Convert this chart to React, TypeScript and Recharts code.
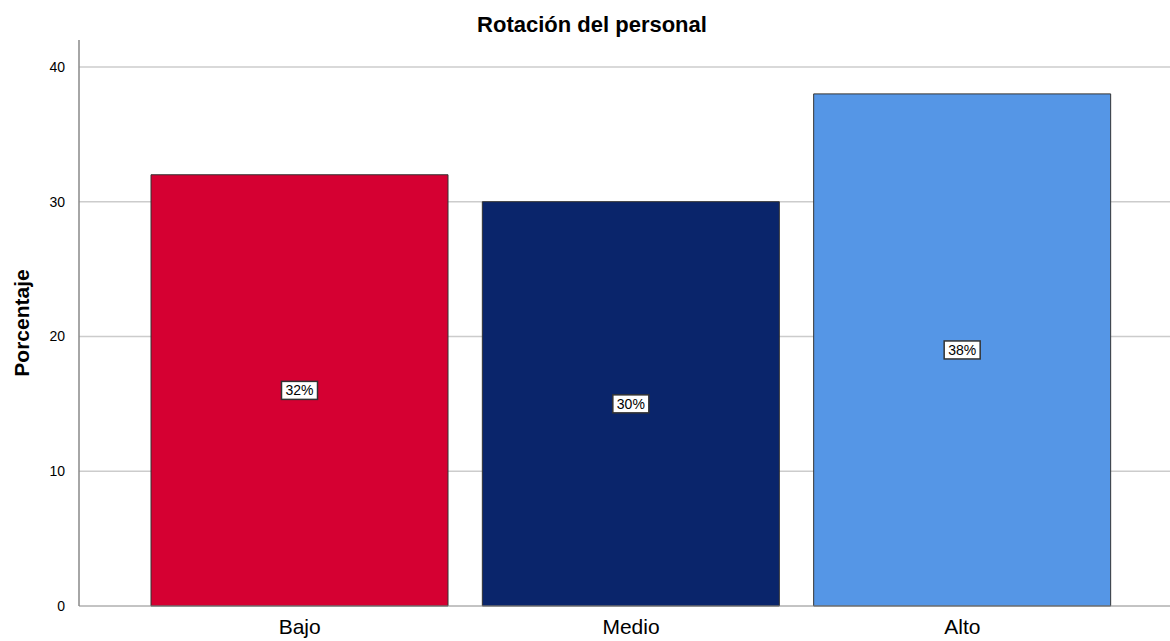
import React from 'react';
import {
  BarChart,
  Bar,
  XAxis,
  YAxis,
  CartesianGrid,
  Cell,
  LabelList,
} from 'recharts';

const categories = ['Bajo', 'Medio', 'Alto'];
const percentages = [32, 30, 38];
const barColors = ['#D50032', '#0A256B', '#5596E6'];
const yTicks = [0, 10, 20, 30, 40];

const data = categories.map((name, i) => ({ name, value: percentages[i] }));

const font = '"Liberation Sans", Arial, sans-serif';

const BoxLabel = (props: any) => {
  const { x, y, width, height, value } = props;
  const cx = x + width / 2;
  const cy = y + height / 2;
  const w = 36;
  const h = 18;
  return (
    <g>
      <rect
        x={cx - w / 2}
        y={cy - h / 2}
        width={w}
        height={h}
        fill="#ffffff"
        stroke="#333333"
        strokeWidth={1.5}
      />
      <text
        x={cx}
        y={cy + 5}
        textAnchor="middle"
        fontSize={14}
        fontFamily={font}
        fill="#000"
      >
        {value}%
      </text>
    </g>
  );
};

export default function App() {
  return (
    <div style={{ position: 'absolute', left: 0, top: 0, width: 1170, height: 641, background: '#fff' }}>
      <BarChart
        width={1170}
        height={641}
        data={data}
        margin={{ top: 40, right: 0, left: 0, bottom: 0 }}
      >
        <CartesianGrid vertical={false} horizontalValues={[10, 20, 30, 40]} stroke="#cccccc" strokeWidth={1.5} />
        <XAxis
          dataKey="name"
          height={35}
          padding={{ left: 55, right: 42 }}
          tickLine={false}
          axisLine={{ stroke: '#888888' }}
          tick={{ fontSize: 21, fill: '#000', fontFamily: font }}
          tickMargin={7}
        />
        <YAxis
          width={79}
          domain={[0, 42]}
          ticks={yTicks}
          tickLine={false}
          axisLine={{ stroke: '#888888', strokeWidth: 1.5 }}
          tick={{ fontSize: 14, fill: '#000', fontFamily: font }}
          tickMargin={8}
          label={{
            value: 'Porcentaje',
            angle: -90,
            position: 'insideLeft',
            offset: 22,
            style: { fontSize: 21, fontWeight: 'bold', fill: '#000', fontFamily: font, textAnchor: 'middle' },
          }}
        />
        <Bar dataKey="value" barSize={297} stroke="#333333" strokeWidth={1} isAnimationActive={false}>
          {data.map((d, i) => (
            <Cell key={d.name} fill={barColors[i]} />
          ))}
          <LabelList dataKey="value" content={BoxLabel} />
        </Bar>
        <text
          x={592}
          y={32}
          textAnchor="middle"
          fontSize={22}
          fontWeight="bold"
          fontFamily={font}
          fill="#000"
        >
          Rotación del personal
        </text>
      </BarChart>
    </div>
  );
}
